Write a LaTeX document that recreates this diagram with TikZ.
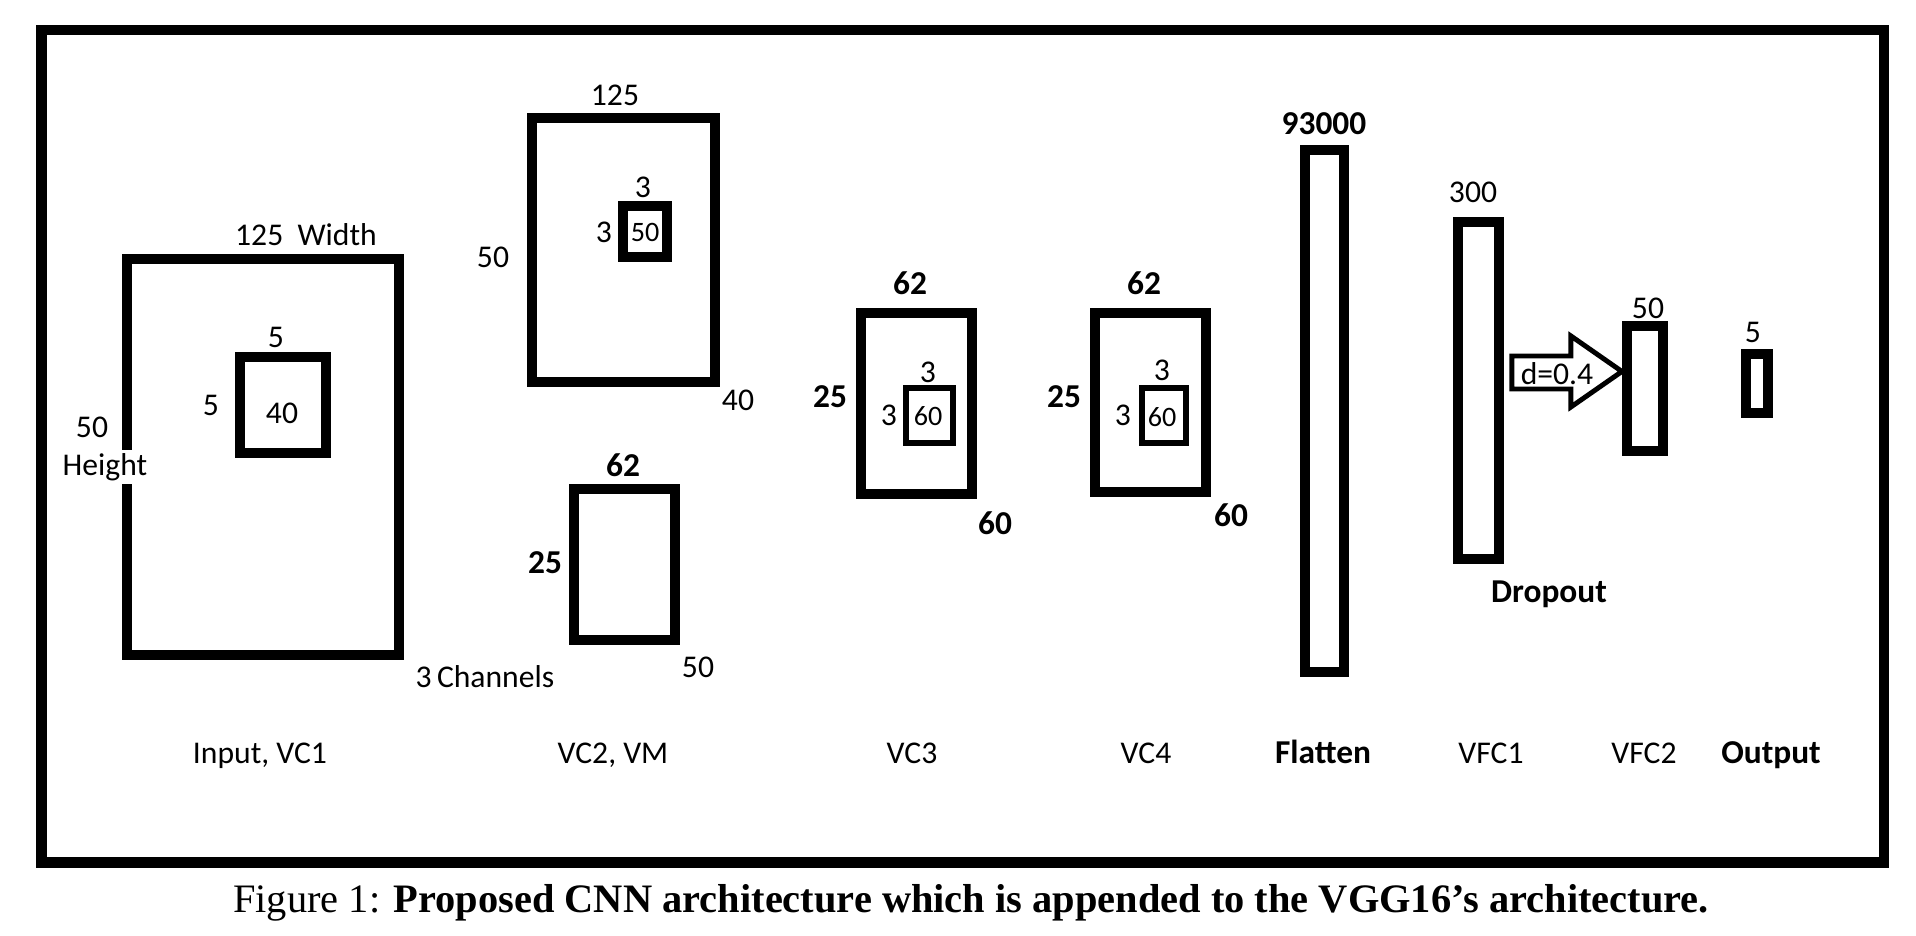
\documentclass[tikz,border=0pt]{standalone}
\usepackage{fontspec}
\setmainfont{Carlito}
\newfontfamily\capfont{Liberation Serif}

\newcommand{\dimfont}{\fontsize{9}{11}\selectfont}
\newcommand{\bdimfont}{\fontsize{9.5}{11}\selectfont\bfseries}
\newcommand{\tinyfont}{\fontsize{8}{9}\selectfont}

\begin{document}
\begin{tikzpicture}[
  layer/.style={draw, line width=2.8pt, inner sep=0pt},
  kernel/.style={draw, line width=1.5pt, inner sep=0pt},
  dim/.style={font=\dimfont, inner sep=1pt},
  bdim/.style={font=\bdimfont, inner sep=1pt},
  lname/.style={font=\dimfont, anchor=base},
  bname/.style={font=\bdimfont, anchor=base}]

  \useasboundingbox (0,0) rectangle (19.16,9.36);

  % -- Outer frame --
  \draw[line width=3pt] (0.415,0.735) rectangle (18.84,9.06);

  % -- Input, VC1 --
  \node[layer, minimum width=2.715cm, minimum height=3.955cm] (vc1) at (2.63,4.79) {};
  \node[layer, minimum width=0.86cm, minimum height=0.96cm] (vc1k) at (2.83,5.31) {};
  \node[dim] (vc1w) at (3.06,7.01) {125\ \ Width};
  \node[dim] (vc1kw) at (2.76,5.99) {5};
  \node[dim] (vc1kh) at (2.11,5.31) {5};
  \node[dim] (vc1kd) at (2.82,5.23) {40};
  \node[dim] (vc1h) at (0.92,5.09) {50};
  \node[dim, fill=white] (vc1hl) at (1.05,4.69) {Height};
  \node[dim] (vc1c) at (4.85,2.59) {3\,Channels};
  \node[lname] (lvc1) at (2.60,1.72) {Input, VC1};

  % -- VC2, VM --
  \node[layer, minimum width=1.83cm, minimum height=2.64cm] (vc2) at (6.235,6.86) {};
  \node[layer, minimum width=0.44cm, minimum height=0.51cm] (vc2k) at (6.45,7.045) {};
  \node[dim] (vc2w) at (6.15,8.41) {125};
  \node[dim] (vc2h) at (4.93,6.79) {50};
  \node[dim] (vc2d) at (7.38,5.36) {40};
  \node[dim] (vc2kw) at (6.43,7.49) {3};
  \node[dim] (vc2kh) at (6.04,7.04) {3};
  \node[font=\tinyfont, inner sep=0pt] (vc2kd) at (6.45,7.04) {50};
  \node[layer, minimum width=1.01cm, minimum height=1.51cm] (vm) at (6.245,3.715) {};
  \node[bdim] (vmw) at (6.23,4.71) {62};
  \node[bdim] (vmh) at (5.45,3.73) {25};
  \node[dim] (vmd) at (6.98,2.69) {50};
  \node[lname] (lvc2) at (6.13,1.72) {VC2, VM};

  % -- VC3 --
  \node[layer, minimum width=1.11cm, minimum height=1.81cm] (vc3) at (9.165,5.325) {};
  \node[kernel, minimum width=0.47cm, minimum height=0.55cm] (vc3k) at (9.295,5.205) {};
  \node[bdim] (vc3w) at (9.10,6.53) {62};
  \node[bdim] (vc3h) at (8.30,5.39) {25};
  \node[bdim] (vc3d) at (9.95,4.13) {60};
  \node[dim] (vc3kw) at (9.28,5.64) {3};
  \node[dim] (vc3kh) at (8.89,5.21) {3};
  \node[font=\tinyfont, inner sep=0pt] (vc3kd) at (9.28,5.20) {60};
  \node[lname] (lvc3) at (9.12,1.72) {VC3};

  % -- VC4 --
  \node[layer, minimum width=1.11cm, minimum height=1.79cm] (vc4) at (11.505,5.335) {};
  \node[kernel, minimum width=0.44cm, minimum height=0.55cm] (vc4k) at (11.64,5.205) {};
  \node[bdim] (vc4w) at (11.44,6.53) {62};
  \node[bdim] (vc4h) at (10.64,5.39) {25};
  \node[bdim] (vc4d) at (12.31,4.21) {60};
  \node[dim] (vc4kw) at (11.62,5.66) {3};
  \node[dim] (vc4kh) at (11.23,5.21) {3};
  \node[font=\tinyfont, inner sep=0pt] (vc4kd) at (11.62,5.19) {60};
  \node[lname] (lvc4) at (11.46,1.72) {VC4};

  % -- Flatten --
  \node[layer, minimum width=0.39cm, minimum height=5.22cm] (flat) at (13.245,5.25) {};
  \node[bdim] (flatn) at (13.24,8.12) {93000};
  \node[bname] (lflat) at (13.23,1.72) {Flatten};

  % -- VFC1 with dropout --
  \node[layer, minimum width=0.41cm, minimum height=3.37cm] (vfc1) at (14.785,5.455) {};
  \node[dim] (vfc1n) at (14.73,7.44) {300};
  \node[bname] (drop) at (15.49,3.33) {Dropout};
  \node[lname] (lvfc1) at (14.91,1.72) {VFC1};

  % -- VFC2 --
  \node[layer, minimum width=0.36cm, minimum height=1.25cm] (vfc2) at (16.45,5.475) {};
  \node[dim] (vfc2n) at (16.48,6.28) {50};
  \node[lname] (lvfc2) at (16.44,1.72) {VFC2};

  % -- Dropout arrow --
  \draw[line width=1.4pt] ([shift={(0.08,0.345)}]vfc1.east) -- ++(0.59,0) -- ++(0,0.2)
    -- ++(0.51,-0.355) -- ++(-0.51,-0.355) -- ++(0,0.18) -- ++(-0.59,0) -- cycle;
  \node[dim] (dval) at (15.57,5.62) {d=0.4};

  % -- Output --
  \node[layer, minimum width=0.22cm, minimum height=0.59cm] (out) at (17.57,5.525) {};
  \node[dim] (outn) at (17.53,6.04) {5};
  \node[bname] (lout) at (17.71,1.72) {Output};

  % Caption
  \node[font=\capfont\fontsize{11.5}{13}\selectfont, anchor=base] (cap) at (9.71,0.23)
    {Figure 1: \textbf{Proposed CNN architecture which is appended to the VGG16’s architecture.}};

\end{tikzpicture}
\end{document}
